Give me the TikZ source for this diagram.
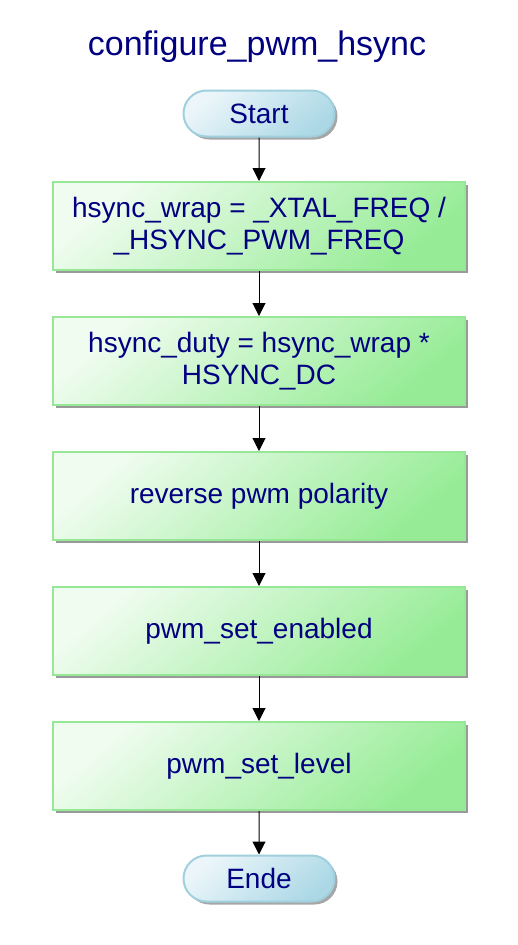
\documentclass[tikz,border=0pt]{standalone}
\usepackage{fontspec}
\setmainfont{Liberation Sans}
\usetikzlibrary{arrows.meta,shadows,shapes.misc}
\definecolor{txtblue}{RGB}{0,0,128}
\definecolor{boxlight}{RGB}{240,252,240}
\definecolor{boxgreen}{RGB}{150,236,150}
\definecolor{boxedge}{RGB}{150,232,150}
\definecolor{termlight}{RGB}{236,246,250}
\definecolor{termblue}{RGB}{172,216,230}
\definecolor{termedge}{RGB}{160,208,222}
\tikzset{
  stepbox/.style={rectangle, draw=boxedge, line width=2pt,
    top color=boxlight, bottom color=boxgreen, shading angle=40,
    minimum width=412pt, minimum height=88pt, inner sep=0pt,
    align=center, text=txtblue, font=\fontsize{28}{32}\selectfont,
    drop shadow={shadow xshift=3pt, shadow yshift=-3pt, fill=black, opacity=0.4}},
  termbox/.style={rounded rectangle, draw=termedge, line width=2pt,
    top color=termlight, bottom color=termblue, shading angle=40,
    minimum width=151pt, minimum height=46pt, inner sep=0pt,
    text=txtblue, font=\fontsize{28}{32}\selectfont,
    drop shadow={shadow xshift=3pt, shadow yshift=-3pt, fill=black, opacity=0.35}},
  flow/.style={draw=black, line width=1pt, -{Triangle[length=13pt,width=13pt]}},
  titletext/.style={text=txtblue, font=\fontsize{34}{38}\selectfont, inner sep=0pt}
}
\begin{document}
\begin{tikzpicture}[x=1pt,y=-1pt]
\useasboundingbox (0,0) rectangle (517,945);
\node[titletext] (title) at (257,47) {configure\_pwm\_hsync};
\node[termbox] (start) at (259,113.5) {Start};
\node[stepbox] (b1) at (259,226) {hsync\_wrap = \_XTAL\_FREQ /\\\_HSYNC\_PWM\_FREQ};
\node[stepbox] (b2) at (259,361) {hsync\_duty = hsync\_wrap *\\HSYNC\_DC};
\node[stepbox] (b3) at (259,496) {reverse pwm polarity};
\node[stepbox] (b4) at (259,631) {pwm\_set\_enabled};
\node[stepbox] (b5) at (259,766) {pwm\_set\_level};
\node[termbox] (ende) at (259,878.5) {Ende};
\draw[flow] (start) -- (b1);
\draw[flow] (b1) -- (b2);
\draw[flow] (b2) -- (b3);
\draw[flow] (b3) -- (b4);
\draw[flow] (b4) -- (b5);
\draw[flow] (b5) -- (ende);
\end{tikzpicture}
\end{document}
